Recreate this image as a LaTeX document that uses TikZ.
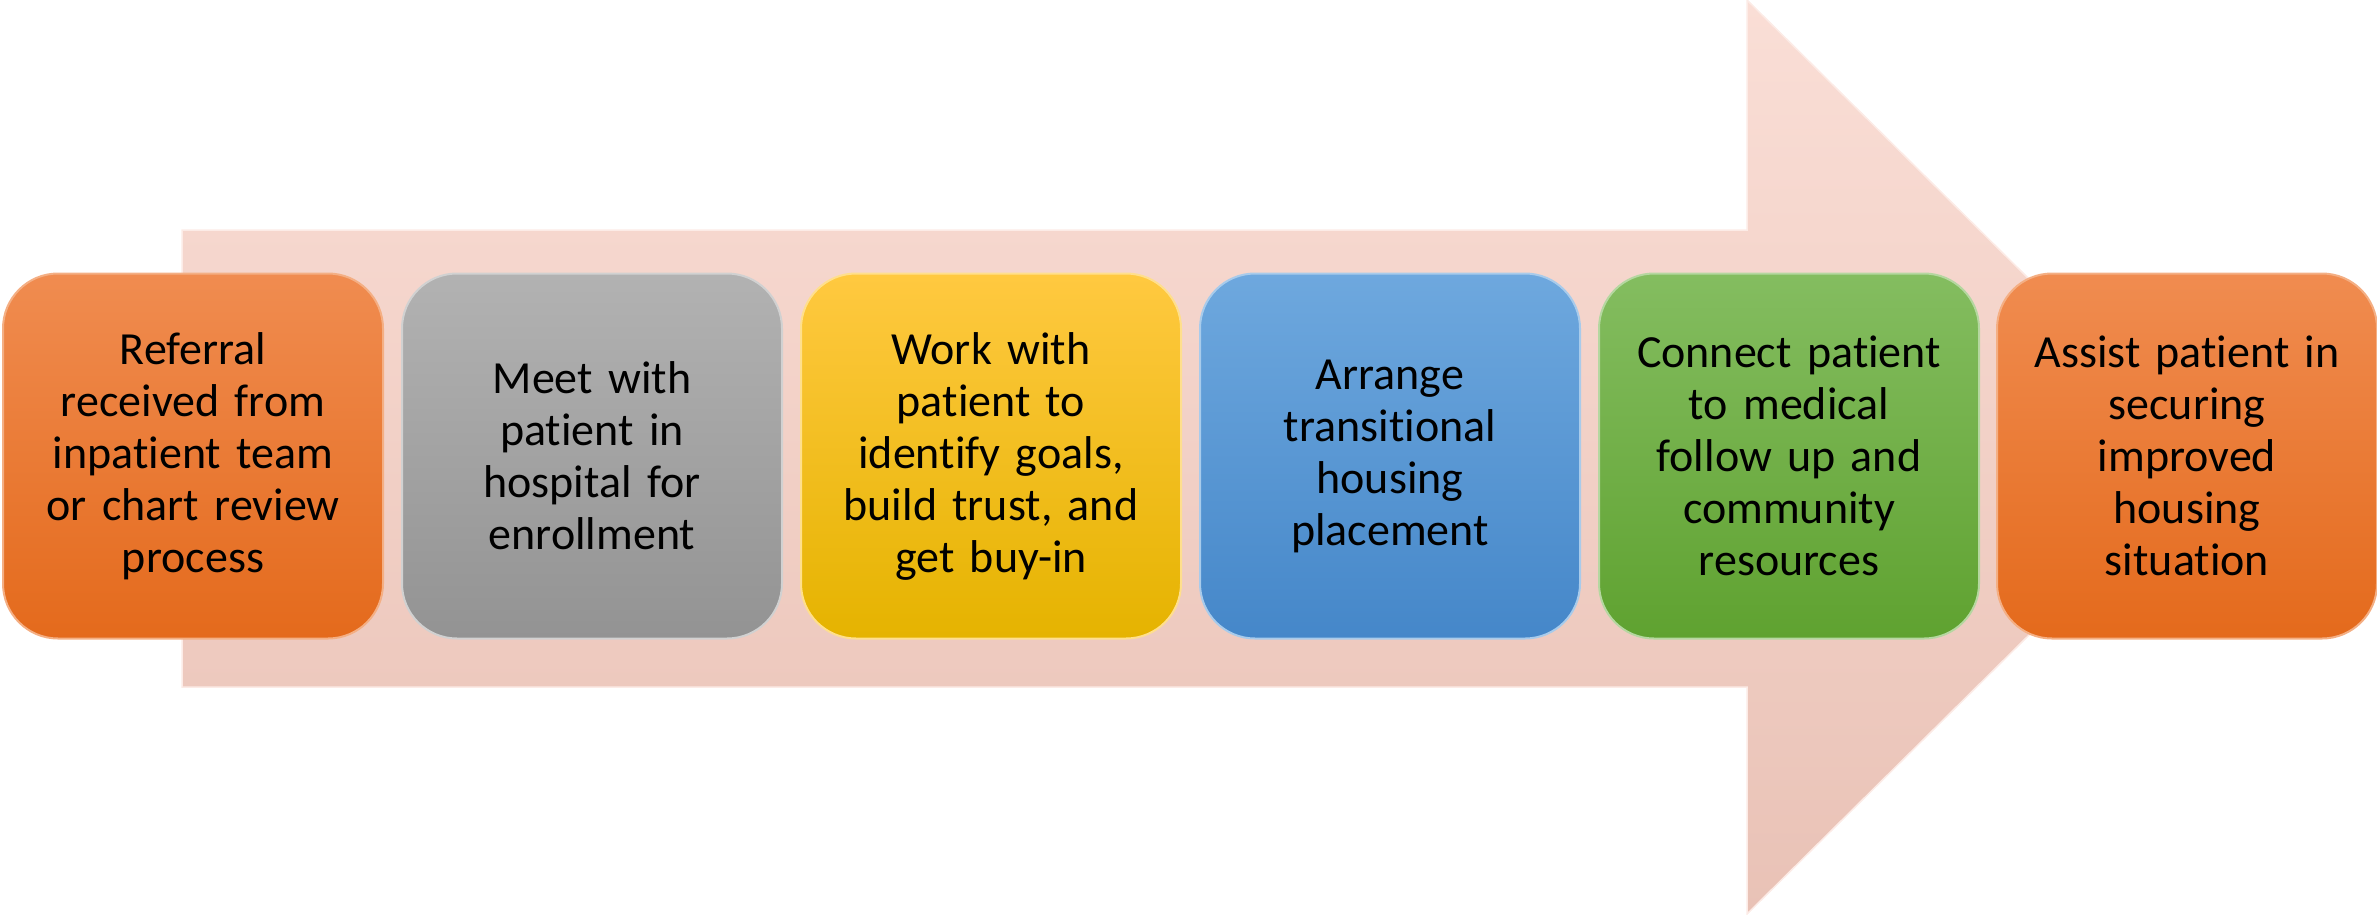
\documentclass[tikz,border=0pt]{standalone}
\usepackage{fontspec}
\setmainfont{Carlito}[Ligatures=NoCommon]
\definecolor{orT}{HTML}{F08C50}
\definecolor{orB}{HTML}{E46A1C}
\definecolor{grT}{HTML}{B2B2B2}
\definecolor{grB}{HTML}{939393}
\definecolor{yeT}{HTML}{FFC940}
\definecolor{yeB}{HTML}{E5B300}
\definecolor{blT}{HTML}{6EA8DE}
\definecolor{blB}{HTML}{4587C9}
\definecolor{gnT}{HTML}{84BD60}
\definecolor{gnB}{HTML}{5FA230}
\definecolor{arT}{HTML}{FADED6}
\definecolor{arB}{HTML}{E9C2B6}
\tikzset{
  stepbox/.style={rounded corners=55pt, minimum width=380pt, minimum height=365pt,
    inner sep=0pt, align=center, text width=360pt, font=\fontsize{46}{52}\selectfont,
    text=black, line width=2pt},
  arrowshape/.style={top color=arT, bottom color=arB, draw=arT!60!white, line width=1.5pt}
}
\begin{document}
\begin{tikzpicture}[x=1pt,y=-1pt]
\useasboundingbox (0,0) rectangle (2377,914);
\path[arrowshape] (182,230) -- (1747,230) -- (1747,0) -- (2209,457) -- (1747,914) -- (1747,687) -- (182,687) -- cycle;
\node[stepbox, top color=orT, bottom color=orB, draw=orT!70!white] (b1) at (193,456)
  {Referral\\received from\\inpatient team\\or chart review\\process};
\node[stepbox, top color=grT, bottom color=grB, draw=grT!60!white] (b2) at (592,456)
  {Meet with\\patient in\\hospital for\\enrollment};
\node[stepbox, top color=yeT, bottom color=yeB, draw=yeT!60!white] (b3) at (991,456)
  {Work with\\patient to\\identify goals,\\build trust, and\\get buy-in};
\node[stepbox, top color=blT, bottom color=blB, draw=blT!60!white] (b4) at (1390,456)
  {Arrange\\transitional\\housing\\placement};
\node[stepbox, top color=gnT, bottom color=gnB, draw=gnT!60!white] (b5) at (1789,456)
  {Connect patient\\to medical\\follow up and\\community\\resources};
\node[stepbox, top color=orT, bottom color=orB, draw=orT!70!white] (b6) at (2187,456)
  {Assist patient in\\securing\\improved\\housing\\situation};
\end{tikzpicture}
\end{document}
